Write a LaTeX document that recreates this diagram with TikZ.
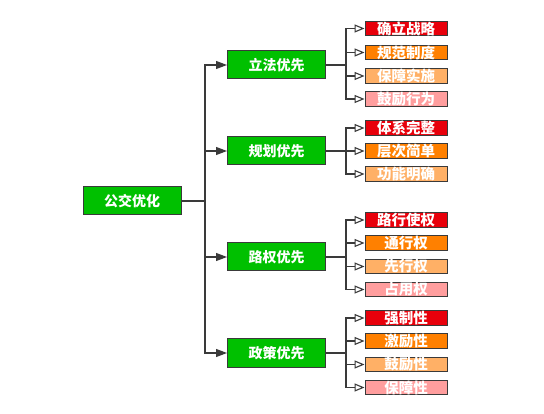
\documentclass[tikz,border=0pt]{standalone}
\usepackage{fontspec}
\setmainfont{Noto Sans CJK SC}
\usetikzlibrary{arrows.meta}

\definecolor{boxgreen}{HTML}{00C000}
\definecolor{leafred}{HTML}{E8000B}
\definecolor{leaforange}{HTML}{FF8000}
\definecolor{leaflight}{HTML}{FFB066}
\definecolor{leafpink}{HTML}{FF9E9E}
\definecolor{edge}{HTML}{3A3A3A}

\tikzset{
  mainbox/.style={draw=edge, line width=1pt, fill=boxgreen, text=white,
    minimum width=98pt, minimum height=28pt, inner sep=0pt,
    font=\fontsize{14}{14}\selectfont\bfseries},
  leafbox/.style={draw=edge, line width=0.9pt, text=white,
    minimum width=82pt, minimum height=14.5pt, inner sep=0pt,
    font=\fontsize{14.5}{14.5}\selectfont\bfseries},
  link/.style={draw=edge, line width=1.1pt},
  tomain/.style={link, -{Triangle[length=11pt,width=8pt]}},
  toleaf/.style={link, -{Triangle[open,fill=white,length=10pt,width=8pt]}}
}

\begin{document}
\begin{tikzpicture}[x=1pt, y=-1pt]
  \useasboundingbox (0,0) rectangle (544,414);

  % root and second level
  \node[mainbox] (root) at (132,201) {公交优化};
  \node[mainbox] (lifa)   at (276.5,65)  {立法优先};
  \node[mainbox] (guihua) at (276.5,151) {规划优先};
  \node[mainbox] (luquan) at (276.5,257) {路权优先};
  \node[mainbox] (zhengce) at (276.5,353) {政策优先};

  \coordinate (trunk) at (205,201);
  \draw[link] (root.east) -- (trunk);
  \foreach \m in {lifa, guihua, luquan, zhengce}
    \draw[tomain] (trunk) |- (\m.west);

  % leaves
  \node[leafbox, fill=leafred]    (a1) at (406,28.5) {确立战略};
  \node[leafbox, fill=leaforange] (a2) at (406,52.5) {规范制度};
  \node[leafbox, fill=leaflight]  (a3) at (406,76)   {保障实施};
  \node[leafbox, fill=leafpink]   (a4) at (406,99)   {鼓励行为};

  \node[leafbox, fill=leafred]    (b1) at (406,128) {体系完整};
  \node[leafbox, fill=leaforange] (b2) at (406,151) {层次简单};
  \node[leafbox, fill=leaflight]  (b3) at (406,174) {功能明确};

  \node[leafbox, fill=leafred]    (c1) at (406,220) {路行使权};
  \node[leafbox, fill=leaforange] (c2) at (406,243) {通行权};
  \node[leafbox, fill=leaflight]  (c3) at (406,266.5) {先行权};
  \node[leafbox, fill=leafpink]   (c4) at (406,289.5) {占用权};

  \node[leafbox, fill=leafred]    (d1) at (406,318) {强制性};
  \node[leafbox, fill=leaforange] (d2) at (406,341) {激励性};
  \node[leafbox, fill=leaflight]  (d3) at (406,364.5) {鼓励性};
  \node[leafbox, fill=leafpink]   (d4) at (406,387.5) {保障性};

  % brackets to leaves
  \coordinate (ja) at (346,65);
  \coordinate (jb) at (346,151);
  \coordinate (jc) at (346,257);
  \coordinate (jd) at (346,353);
  \draw[link] (lifa.east) -- (ja);
  \draw[link] (guihua.east) -- (jb);
  \draw[link] (luquan.east) -- (jc);
  \draw[link] (zhengce.east) -- (jd);
  \foreach \l in {a1,a2,a3,a4} \draw[toleaf] (ja) |- (\l.west);
  \foreach \l in {b1,b2,b3} \draw[toleaf] (jb) |- (\l.west);
  \foreach \l in {c1,c2,c3,c4} \draw[toleaf] (jc) |- (\l.west);
  \foreach \l in {d1,d2,d3,d4} \draw[toleaf] (jd) |- (\l.west);
\end{tikzpicture}
\end{document}
